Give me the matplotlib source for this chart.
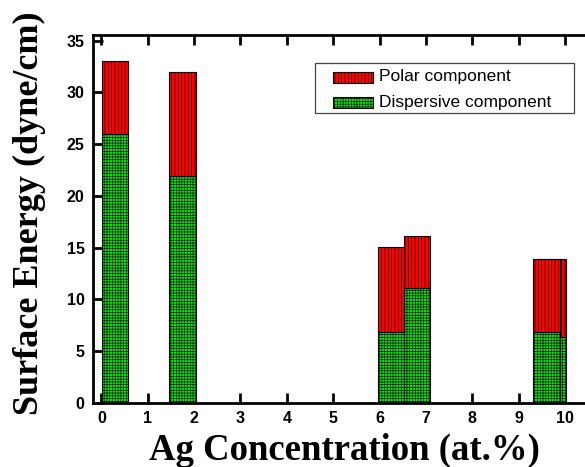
import matplotlib
matplotlib.use("Agg")
import matplotlib.pyplot as plt
from matplotlib.patches import Rectangle

# Data
concentration = [0.29, 1.75, 6.245, 6.81, 9.725, 9.60]
dispersive = [26.0, 21.9, 6.9, 11.1, 6.38, 6.86]
polar = [7.0, 10.1, 8.2, 5.0, 7.52, 7.04]
xticks = [0, 1, 2, 3, 4, 5, 6, 7, 8, 9, 10]
yticks = [0, 5, 10, 15, 20, 25, 30, 35]
legend_labels = ["Polar component", "Dispersive component"]

plt.rcParams['hatch.linewidth'] = 0.45
plt.rcParams['hatch.color'] = 'black'

RED = '#FF0000'
GREEN = '#00EE00'
H_POLAR = '|||||'
H_DISP = '++++++'

W, H = 585, 467
fig = plt.figure(figsize=(W / 100, H / 100), dpi=100)
left, bottom, top_px = 93, 64, 35
ax = fig.add_axes([left / W, bottom / H, 500 / W, (H - bottom - top_px) / H])

bw = 0.57
for xc, d, p in zip(concentration, dispersive, polar):
    ax.bar(xc, d, width=bw, color=GREEN, edgecolor='black', linewidth=0.8,
           hatch=H_DISP, zorder=2)
    ax.bar(xc, p, bottom=d, width=bw, color=RED, edgecolor='black',
           linewidth=0.8, hatch=H_POLAR, zorder=2)

ax.set_xlim(-0.18, 10.6)
ax.set_ylim(0, 35.55)
ax.set_xticks(xticks)
ax.set_yticks(yticks)
ax.tick_params(direction='in', length=7, width=2, top=True, labelsize=11.5)
ax.tick_params(axis='x', pad=6)
ax.tick_params(axis='y', pad=6)
for lab in ax.get_xticklabels() + ax.get_yticklabels():
    lab.set_family('Liberation Sans')
    lab.set_fontweight('bold')
for s in ax.spines.values():
    s.set_linewidth(2)

fig.text(344 / W, 1 - 460 / H, "Ag Concentration (at.%)", family='Liberation Serif',
         fontweight='bold', fontsize=26.5, ha='center', va='baseline')
fig.text(29 / W, 1 - 213 / H, "Surface Energy (dyne/cm)", rotation=90,
         family='Liberation Serif', fontweight='bold', fontsize=26,
         ha='center', va='center')

# Legend drawn in figure pixel coordinates
def fx(px):
    return px / W

def fy(py):
    return 1 - py / H

frame = Rectangle((fx(315), fy(113)), fx(574) - fx(315), fy(63) - fy(113),
                  transform=fig.transFigure, facecolor='white',
                  edgecolor='#444444', linewidth=0.9, zorder=5)
fig.add_artist(frame)
rows = [(77, RED, H_POLAR), (102, GREEN, H_DISP)]
for (yc, col, hat), lab in zip(rows, legend_labels):
    fig.add_artist(Rectangle((fx(333), fy(yc + 5.5)), fx(373) - fx(333), 11 / H,
                             transform=fig.transFigure, facecolor=col,
                             edgecolor='black', linewidth=0.8, hatch=hat, zorder=6))
    fig.text(fx(379), fy(yc), lab, family='Liberation Sans', fontsize=12.5,
             ha='left', va='center', zorder=6)

fig.savefig("out.png", dpi=100)
